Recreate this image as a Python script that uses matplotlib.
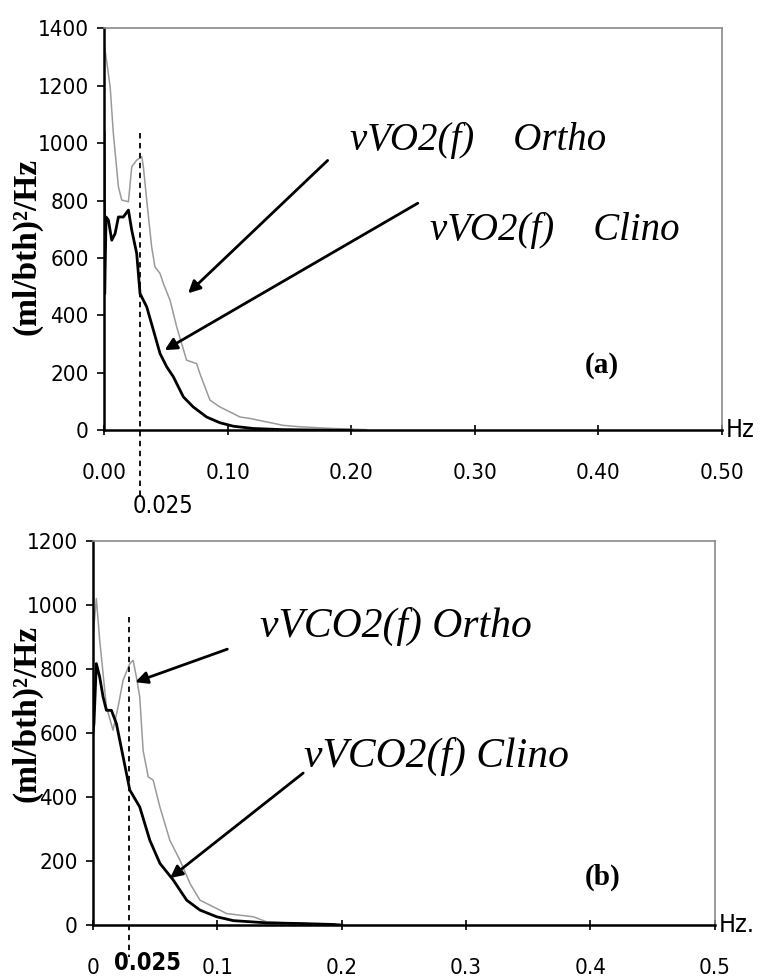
import matplotlib
matplotlib.use("Agg")
import matplotlib.pyplot as plt

# ---- data: panel (a) VO2 ----
a_ortho_f = [0.0, 0.0016, 0.0049, 0.0075, 0.0116, 0.0143, 0.0197, 0.0224, 0.0264, 0.0305,
             0.0318, 0.0345, 0.0385, 0.0412, 0.0453, 0.0480, 0.0534, 0.0588, 0.0668, 0.0749,
             0.0776, 0.0857, 0.0938, 0.1046, 0.1100, 0.1181, 0.1315, 0.1450, 0.1585, 0.1854,
             0.2124]
a_ortho_v = [1350, 1301, 1197, 1034, 848, 802, 796, 918, 941, 953, 918, 802, 639, 569, 546,
             511, 453, 360, 244, 232, 197, 105, 81, 58, 46, 41, 29, 17, 12, 6, 2]
a_clino_f = [0.0, 0.0005, 0.0016, 0.0035, 0.0062, 0.0089, 0.0116, 0.0156, 0.0197, 0.0224,
             0.0264, 0.0291, 0.0345, 0.0399, 0.0453, 0.0507, 0.0561, 0.0642, 0.0722, 0.0830,
             0.0938, 0.1046, 0.1208, 0.1450, 0.1854, 0.2000]
a_clino_v = [1040, 476, 743, 732, 662, 685, 743, 743, 767, 697, 616, 476, 430, 349, 267, 221,
             186, 116, 81, 46, 26, 14, 6, 2, 0, 0]

# ---- data: panel (b) VCO2 ----
b_ortho_f = [0.0, 0.0027, 0.0054, 0.0081, 0.0108, 0.0161, 0.0202, 0.0242, 0.0296, 0.0323,
             0.0349, 0.0376, 0.0403, 0.0444, 0.0484, 0.0538, 0.0618, 0.0699, 0.0780, 0.0860,
             0.0968, 0.1075, 0.1183, 0.1290, 0.1398, 0.1667, 0.1935, 0.2000]
b_ortho_v = [900, 1020, 890, 786, 682, 609, 682, 765, 817, 827, 775, 713, 546, 463, 453, 369,
             265, 203, 130, 78, 57, 36, 31, 26, 10, 5, 2, 0]
b_clino_f = [0.0, 0.0008, 0.0027, 0.0054, 0.0081, 0.0108, 0.0148, 0.0188, 0.0242, 0.0296,
             0.0376, 0.0457, 0.0538, 0.0645, 0.0753, 0.0860, 0.0995, 0.1129, 0.1398, 0.1667,
             0.1935, 0.2000]
b_clino_v = [600, 630, 817, 775, 713, 671, 671, 630, 526, 422, 369, 265, 193, 141, 78, 47,
             26, 14, 7, 5, 2, 0]

a_xticks = [0.0, 0.1, 0.2, 0.3, 0.4, 0.5]
a_xticklabels = ["0.00", "0.10", "0.20", "0.30", "0.40", "0.50"]
a_yticks = [0, 200, 400, 600, 800, 1000, 1200, 1400]
b_xticks = [0.0, 0.1, 0.2, 0.3, 0.4, 0.5]
b_xticklabels = ["0", "0.1", "0.2", "0.3", "0.4", "0.5"]
b_yticks = [0, 200, 400, 600, 800, 1000, 1200]
marker_f = 0.029

TICKFONT = ["DejaVu Sans"]
SERIF = ["Liberation Serif", "DejaVu Serif"]
TICKKW = dict(family=TICKFONT, stretch="condensed")

fig = plt.figure(figsize=(7.71, 9.80), dpi=100)
ax1 = fig.add_axes([0.135, 0.561, 0.801, 0.410])
ax2 = fig.add_axes([0.1206, 0.056, 0.8066, 0.392])


def style(ax, ymax, xticks, xlabels, yticks, xpad):
    ax.set_xlim(0, 0.5)
    ax.set_ylim(0, ymax)
    ax.set_xticks(xticks)
    ax.set_xticklabels(xlabels)
    ax.set_yticks(yticks)
    ax.set_yticklabels([str(v) for v in yticks])
    for s in ("top", "right"):
        ax.spines[s].set_color("#8a8a8a")
        ax.spines[s].set_linewidth(1.2)
    for s in ("left", "bottom"):
        ax.spines[s].set_color("black")
        ax.spines[s].set_linewidth(1.8)
    ax.tick_params(axis="x", direction="inout", length=7, width=1.2, pad=xpad,
                   labelsize=16)
    ax.tick_params(axis="y", direction="out", length=5, width=1.2, pad=6,
                   labelsize=16)
    for lab in ax.get_xticklabels() + ax.get_yticklabels():
        lab.set_family(TICKFONT)
        lab.set_stretch("condensed")


# ---- panel (a) ----
ax1.plot(a_ortho_f, a_ortho_v, color="#9a9a9a", lw=1.1)
ax1.plot(a_clino_f, a_clino_v, color="black", lw=2.0)
style(ax1, 1400, a_xticks, a_xticklabels, a_yticks, 20)
ax1.plot([marker_f, marker_f], [1034, -230], ls=(0, (3, 2.5)), color="black", lw=1.3,
         clip_on=False)
ax1.text(0.048, -265, "0.025", ha="center", va="center", fontsize=17, **TICKKW)
ax1.text(0.503, 0, "Hz", ha="left", va="center", fontsize=18, **TICKKW)
ax1.text(0.199, 975, "vVO2(f)    Ortho", fontsize=28, style="italic", family=SERIF,
         ha="left", va="baseline")
ax1.text(0.264, 662, "vVO2(f)    Clino", fontsize=28, style="italic", family=SERIF,
         ha="left", va="baseline")
ax1.annotate("", xy=(0.068, 477), xytext=(0.181, 940),
             arrowprops=dict(arrowstyle="-|>", color="black", lw=2.0,
                             mutation_scale=18, shrinkA=0, shrinkB=0))
ax1.annotate("", xy=(0.049, 279), xytext=(0.254, 791),
             arrowprops=dict(arrowstyle="-|>", color="black", lw=2.0,
                             mutation_scale=18, shrinkA=0, shrinkB=0))
ax1.text(0.403, 226, "(a)", fontsize=21, fontweight="bold", family=SERIF,
         ha="center", va="center")
ax1.set_ylabel("(ml/bth)²/Hz", fontsize=24, fontweight="bold", family=SERIF)
ax1.yaxis.set_label_coords(-0.100, 0.458)

# ---- panel (b) ----
ax2.plot(b_ortho_f, b_ortho_v, color="#9a9a9a", lw=1.1)
ax2.plot(b_clino_f, b_clino_v, color="black", lw=2.0)
style(ax2, 1200, b_xticks, b_xticklabels, b_yticks, 20)
ax2.plot([marker_f, marker_f], [962, -100], ls=(0, (3, 2.5)), color="black", lw=1.3,
         clip_on=False)
ax2.text(0.044, -118, "0.025", ha="center", va="center", fontsize=17,
         fontweight="bold", **TICKKW)
ax2.text(0.503, 0, "Hz.", ha="left", va="center", fontsize=18, **TICKKW)
ax2.text(0.134, 900, "vVCO2(f) Ortho", fontsize=30, style="italic", family=SERIF,
         ha="left", va="baseline")
ax2.text(0.170, 494, "vVCO2(f) Clino", fontsize=30, style="italic", family=SERIF,
         ha="left", va="baseline")
ax2.annotate("", xy=(0.034, 759), xytext=(0.108, 862),
             arrowprops=dict(arrowstyle="-|>", color="black", lw=2.0,
                             mutation_scale=18, shrinkA=0, shrinkB=0))
ax2.annotate("", xy=(0.062, 147), xytext=(0.169, 475),
             arrowprops=dict(arrowstyle="-|>", color="black", lw=2.0,
                             mutation_scale=18, shrinkA=0, shrinkB=0))
ax2.text(0.410, 150, "(b)", fontsize=21, fontweight="bold", family=SERIF,
         ha="center", va="center")
ax2.set_ylabel("(ml/bth)²/Hz", fontsize=24, fontweight="bold", family=SERIF)
ax2.yaxis.set_label_coords(-0.081, 0.552)

fig.savefig("out.png", dpi=100)
